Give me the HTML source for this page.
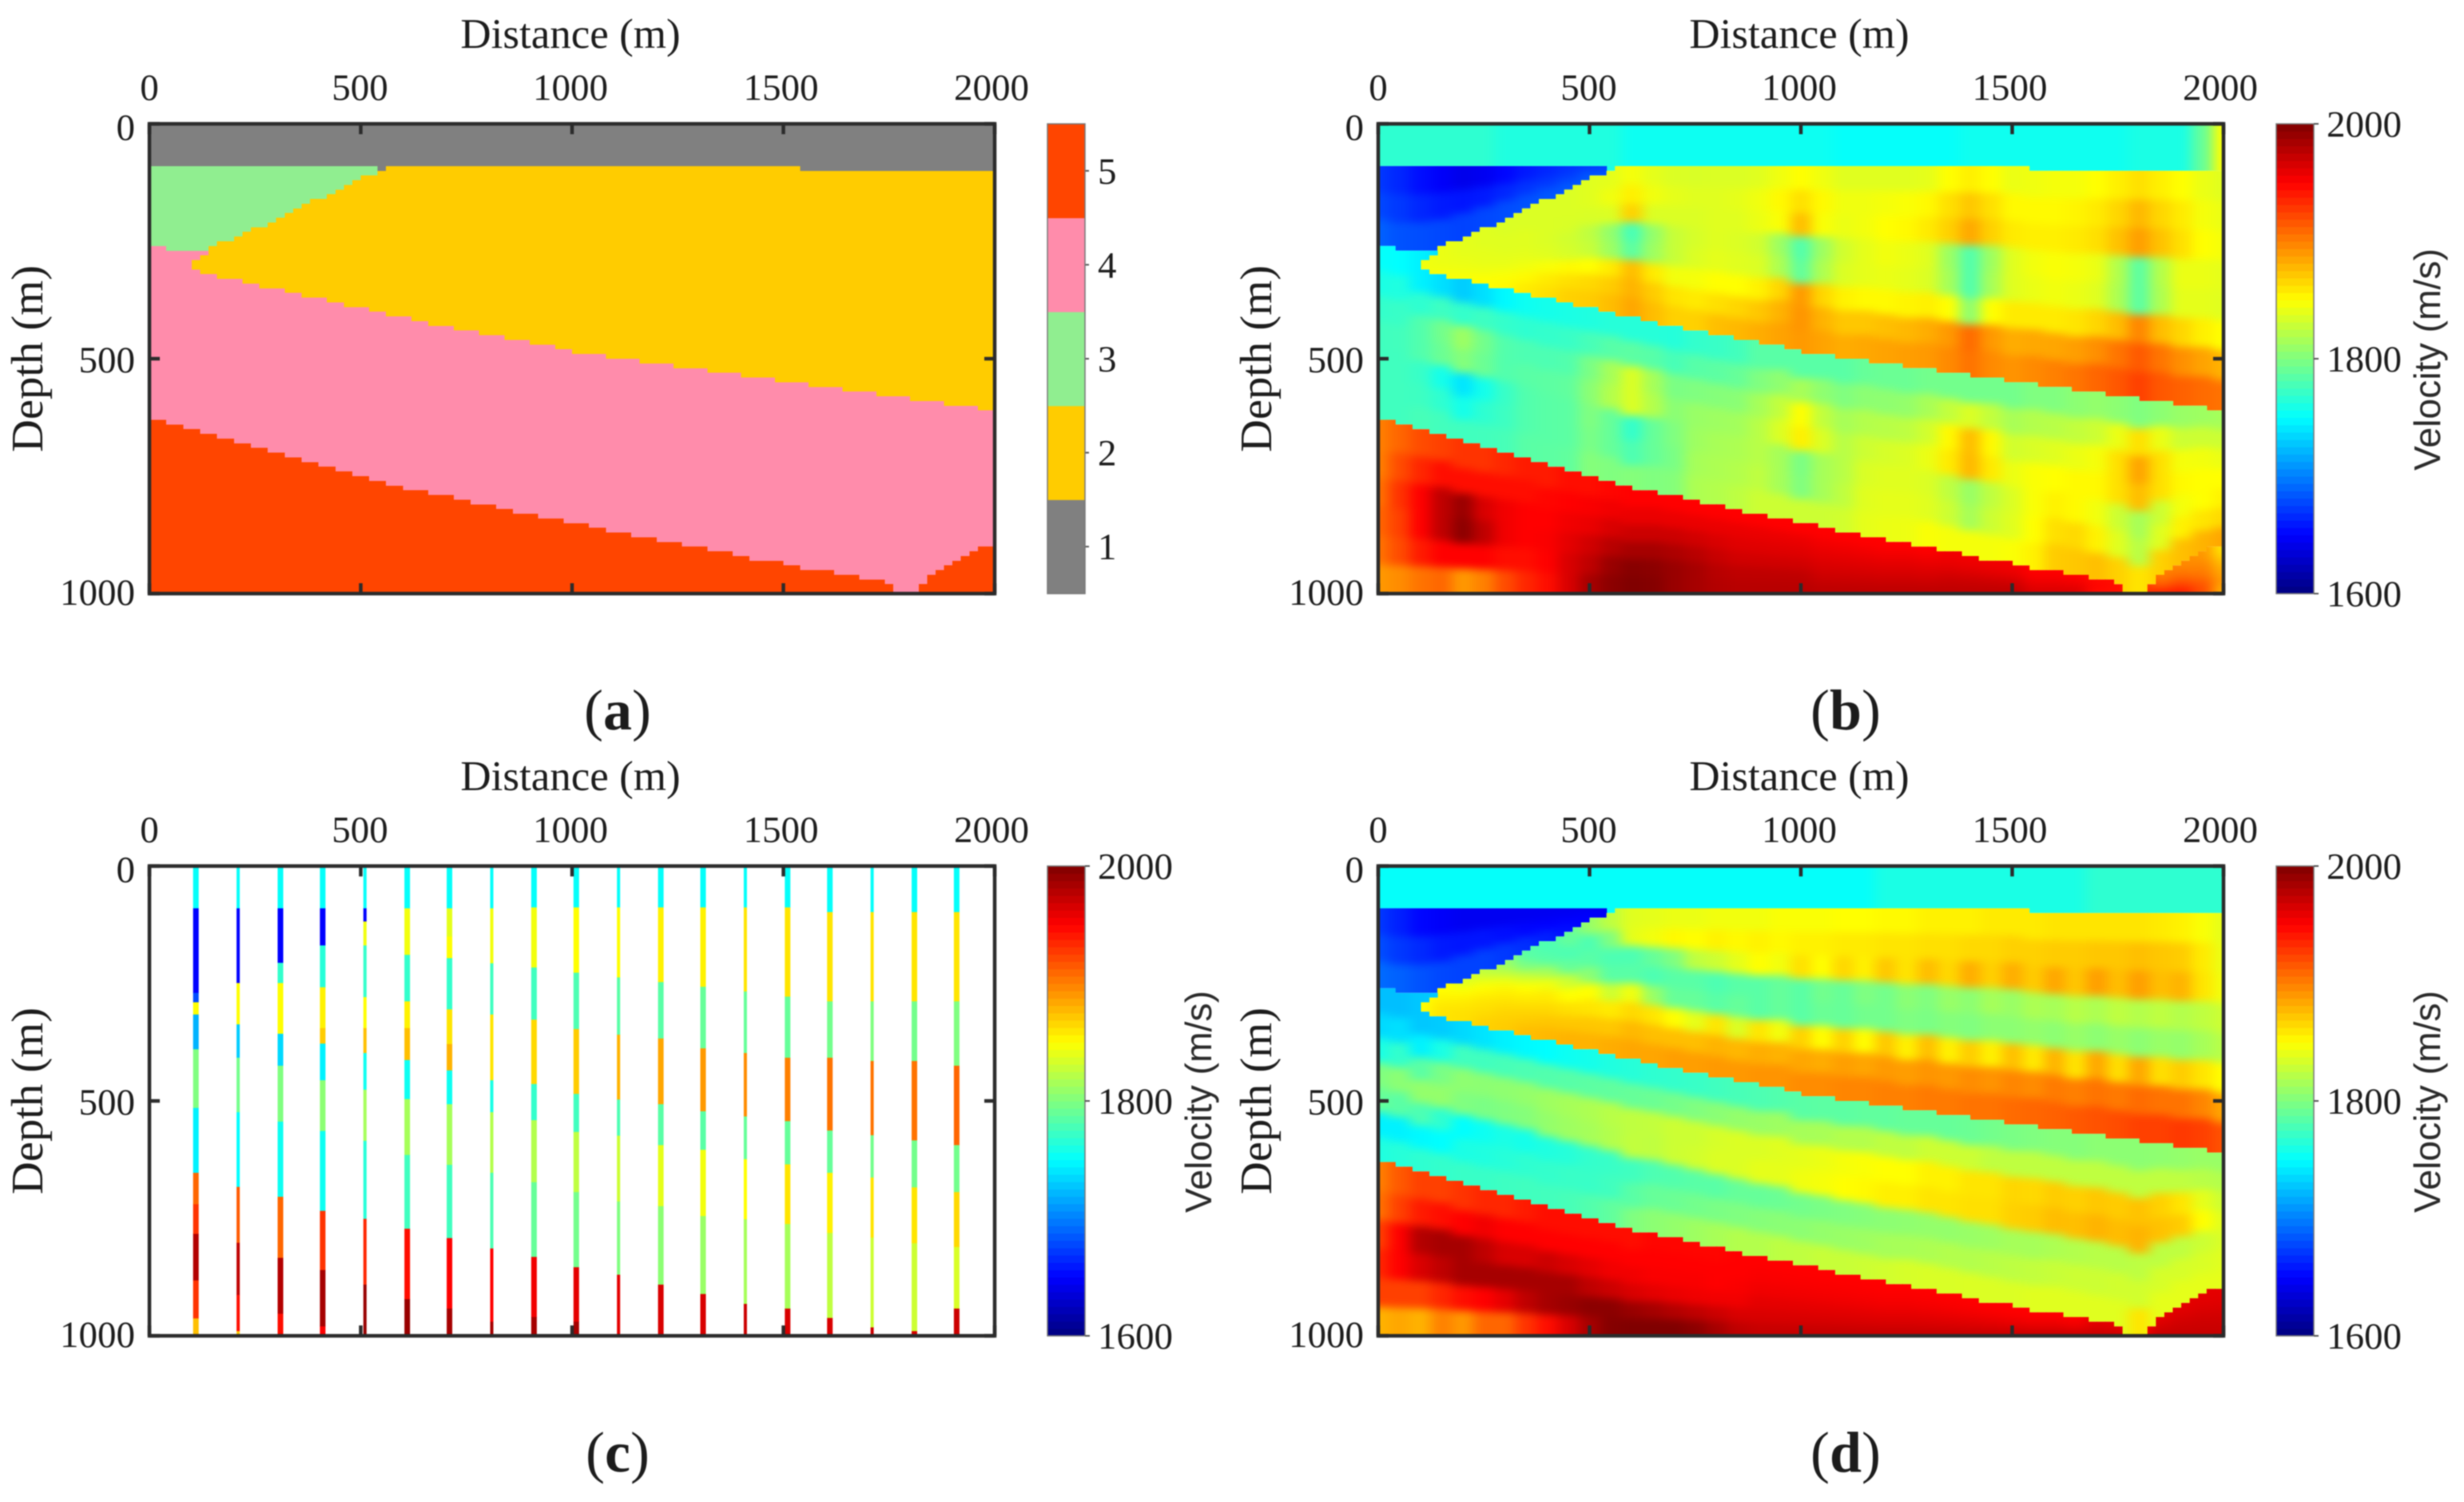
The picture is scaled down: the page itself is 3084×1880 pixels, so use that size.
<!DOCTYPE html>
<html lang="en">
<head>
<meta charset="utf-8">
<title>Velocity model panels</title>
<style>
html,body{margin:0;padding:0;background:#fff;width:3084px;height:1880px;overflow:hidden}
svg{display:block;filter:blur(.7px)}
text{fill:#1c1c1c;font-family:"Liberation Serif",serif}
.dist{font-size:53px;text-anchor:middle}
.depth{font-size:56px;text-anchor:middle}
.vel{font-size:46px;text-anchor:middle;font-family:"Liberation Sans",sans-serif;fill:#2a2a2a}
.cap{font-size:72px;text-anchor:middle}
.cap tspan{font-weight:bold}
.tick{font-size:47px}
</style>
</head>
<body>
<svg id="figure" width="3084" height="1880" viewBox="0 0 3084 1880" xmlns="http://www.w3.org/2000/svg">
<rect width="3084" height="1880" fill="#fff"/>
<defs id="defs">
<filter id="soft" filterUnits="userSpaceOnUse" x="-120" y="-200" width="1300" height="1000" color-interpolation-filters="sRGB"><feGaussianBlur stdDeviation="8 5"/></filter>
</defs>
<g id="panel-a" transform="translate(187 155)">
<g id="a-marks"></g>
<text class="dist" x="527" y="-95">Distance (m)</text>
<text class="depth" transform="translate(-134 294) rotate(-90)" textLength="234" lengthAdjust="spacingAndGlyphs">Depth (m)</text>
<text class="cap" x="586" y="758">(<tspan>a</tspan>)</text>
</g>
<g id="panel-b" transform="translate(1725 155)">
<g id="b-marks"></g>
<text class="dist" x="527" y="-95">Distance (m)</text>
<text class="depth" transform="translate(-134 294) rotate(-90)" textLength="234" lengthAdjust="spacingAndGlyphs">Depth (m)</text>
<text class="vel" transform="translate(1329 295) rotate(-90)" textLength="278" lengthAdjust="spacingAndGlyphs">Velocity (m/s)</text>
<text class="cap" x="585" y="758">(<tspan>b</tspan>)</text>
</g>
<g id="panel-c" transform="translate(187 1084)">
<g id="c-marks"></g>
<text class="dist" x="527" y="-95">Distance (m)</text>
<text class="depth" transform="translate(-134 294) rotate(-90)" textLength="234" lengthAdjust="spacingAndGlyphs">Depth (m)</text>
<text class="vel" transform="translate(1329 295) rotate(-90)" textLength="278" lengthAdjust="spacingAndGlyphs">Velocity (m/s)</text>
<text class="cap" x="586" y="758">(<tspan>c</tspan>)</text>
</g>
<g id="panel-d" transform="translate(1725 1084)">
<g id="d-marks"></g>
<text class="dist" x="527" y="-95">Distance (m)</text>
<text class="depth" transform="translate(-134 294) rotate(-90)" textLength="234" lengthAdjust="spacingAndGlyphs">Depth (m)</text>
<text class="vel" transform="translate(1329 295) rotate(-90)" textLength="278" lengthAdjust="spacingAndGlyphs">Velocity (m/s)</text>
<text class="cap" x="585" y="758">(<tspan>d</tspan>)</text>
</g>
</svg>
<script>
// ---------- axis data ----------
const xTickLabels = [0, 500, 1000, 1500, 2000];
const yTickLabels = [0, 500, 1000];
const faciesTickLabels = [1, 2, 3, 4, 5];
const faciesColors = ['#808080', '#ffcc00', '#90ee90', '#ff8cab', '#ff4500'];
const velocityTickLabels = [1600, 1800, 2000];

// ---------- layer boundaries: depth (m) per 20 m model column ----------
const layer1Base = [
90,90,90,90,90,90,90,90,90,90, 90,90,90,90,90,90,90,90,90,90,
90,90,90,90,90,90,90,100,90,90, 90,90,90,90,90,90,90,90,90,90,
90,90,90,90,90,90,90,90,90,90, 90,90,90,90,90,90,90,90,90,90,
90,90,90,90,90,90,90,90,90,90, 90,90,90,90,90,90,90,100,100,100,
100,100,100,100,100,100,100,100,100,100, 100,100,100,100,100,100,100,100,100,100];
const wedgeBase = [260,260,270,270,270,270,270,260,250,250,240,230,220,220,210,200,190,180,170,160,160,150,140,130,120,110,110,100];
const tipTops = [0,0,0,0,0,290,280];
const layer2Base = [
0,0,0,0,0,310,320,320,330,330,
330,340,340,350,350,350,360,360,370,370,
370,380,380,390,390,390,400,400,410,410,
410,420,420,430,430,430,440,440,440,450,
450,450,460,460,460,470,470,470,480,480,
490,490,490,490,500,500,500,500,510,510,
510,510,520,520,520,520,530,530,530,530,
540,540,540,540,550,550,550,550,560,560,
560,560,570,570,570,570,580,580,580,580,
590,590,590,590,600,600,600,600,610,610];
const layer4Base = [
630,630,640,640,650,650,660,660,670,670,
680,680,690,690,700,700,710,710,720,720,
730,730,740,740,750,750,760,760,770,770,
780,780,780,790,790,790,800,800,810,810,
810,820,820,830,830,830,840,840,840,850,
850,850,860,860,870,870,870,880,880,880,
890,890,890,900,900,900,910,910,910,920,
920,930,930,930,930,940,940,950,950,950,
950,960,960,960,970,970,970,980,1000,1000,
1000,980,960,950,940,930,920,910,900,900];

// ---------- panel b velocities (m/s): one entry per 50 m column, rows top to bottom of each layer ----------
const bLayer1 = [
[1768],[1768],[1768],[1768],[1768],[1768],[1762],[1762],[1762],[1762],[1762],[1762],
[1755],[1755],[1755],[1755],[1755],[1755],[1755],[1755],[1755],[1755],
[1752],[1752],[1752],[1752],[1752],[1752],
[1756],[1756],[1756],[1756],[1756],[1756],[1756],[1756],
[1760],[1760],[1760],[1790],[1850]];
const bLayer3 = [
[1672,1678,1688],[1665,1672,1682],[1655,1665,1680],[1648,1660,1678],[1642,1658,1676],[1645,1660,1678],
[1652,1665,1680],[1660,1670,1682],[1665,1672,1684],[1670,1675,1685],[1672,1678,1685],[1675,1680,1685]];
const bLayer2 = [
[1840,1840,1840,1840,1840,1840,1840,1840],[1840,1840,1840,1840,1840,1840,1840,1840],
[1845,1845,1845,1845,1845,1845,1845,1845],[1842,1842,1842,1842,1842,1843,1845,1846],
[1840,1840,1840,1840,1842,1842,1845,1848],[1838,1838,1838,1840,1840,1842,1845,1850],
[1836,1836,1838,1838,1840,1842,1848,1852],[1836,1836,1838,1838,1840,1845,1852,1858],
[1836,1836,1836,1836,1838,1848,1858,1862],[1836,1836,1835,1832,1834,1852,1862,1868],
[1838,1838,1835,1825,1828,1850,1865,1870],[1840,1844,1836,1808,1812,1858,1870,1876],
[1846,1856,1868,1778,1786,1876,1880,1885],[1840,1844,1836,1808,1812,1858,1870,1876],
[1836,1840,1836,1828,1828,1845,1860,1868],[1835,1838,1836,1834,1836,1846,1858,1868],
[1836,1838,1838,1838,1840,1850,1862,1875],[1836,1840,1838,1836,1838,1850,1866,1878],
[1838,1844,1842,1832,1836,1855,1872,1882],[1844,1852,1848,1812,1818,1866,1880,1886],
[1850,1862,1876,1782,1788,1890,1892,1890],[1844,1852,1848,1812,1818,1866,1880,1886],
[1838,1844,1842,1832,1836,1855,1872,1882],[1838,1844,1845,1840,1840,1852,1872,1884],
[1838,1846,1850,1845,1842,1852,1875,1886],[1838,1848,1852,1842,1840,1854,1878,1888],
[1840,1852,1858,1838,1836,1856,1882,1890],[1850,1862,1868,1812,1815,1850,1890,1896],
[1856,1872,1884,1782,1782,1806,1908,1905],[1850,1862,1868,1812,1815,1850,1890,1896],
[1842,1852,1858,1838,1838,1858,1882,1892],[1844,1852,1856,1845,1842,1858,1884,1896],
[1846,1852,1856,1848,1845,1858,1885,1900],[1846,1854,1858,1846,1842,1860,1888,1904],
[1850,1858,1862,1842,1838,1866,1894,1910],[1856,1866,1874,1820,1818,1876,1904,1916],
[1862,1878,1888,1786,1786,1898,1915,1925],[1856,1866,1874,1820,1818,1876,1904,1916],
[1850,1858,1862,1842,1840,1866,1894,1912],[1842,1846,1850,1842,1840,1856,1886,1908],
[1838,1842,1846,1840,1838,1850,1880,1905]];
const bLayer4 = [
[1752,1760,1770,1775,1775,1775,1775],[1750,1762,1772,1776,1775,1775,1775],
[1745,1768,1782,1782,1772,1774,1778],[1738,1774,1795,1792,1758,1768,1776],
[1730,1770,1812,1802,1740,1758,1775],[1738,1774,1795,1792,1758,1768,1776],
[1748,1770,1782,1782,1772,1774,1778],[1755,1768,1780,1785,1782,1782,1785],
[1758,1770,1780,1786,1785,1785,1786],[1760,1772,1782,1788,1786,1786,1788],
[1762,1778,1798,1804,1800,1798,1802],[1765,1784,1815,1820,1790,1790,1800],
[1765,1786,1836,1836,1770,1780,1802],[1765,1784,1815,1820,1790,1790,1800],
[1764,1778,1798,1804,1800,1798,1802],[1770,1784,1800,1810,1812,1815,1818],
[1772,1786,1802,1812,1816,1818,1820],[1776,1790,1804,1814,1818,1820,1824],
[1785,1800,1815,1822,1822,1825,1830],[1785,1806,1826,1836,1815,1815,1830],
[1785,1816,1850,1856,1798,1800,1830],[1785,1806,1826,1836,1815,1815,1830],
[1785,1800,1815,1822,1822,1825,1832],[1790,1805,1820,1830,1835,1838,1840],
[1792,1806,1822,1834,1838,1840,1842],[1792,1808,1824,1836,1838,1840,1843],
[1795,1816,1832,1842,1836,1838,1848],[1795,1826,1852,1858,1825,1830,1846],
[1795,1836,1876,1878,1810,1815,1846],[1795,1826,1852,1858,1825,1830,1846],
[1795,1816,1832,1842,1836,1838,1848],[1800,1820,1835,1848,1848,1850,1855],
[1800,1822,1838,1850,1855,1862,1870],[1805,1826,1842,1852,1852,1865,1872],
[1808,1830,1846,1852,1845,1855,1875],[1805,1842,1862,1862,1830,1838,1868],
[1800,1862,1886,1876,1815,1822,1860],[1805,1842,1862,1862,1830,1838,1868],
[1810,1830,1846,1852,1846,1855,1875],[1812,1830,1845,1850,1850,1860,1880],
[1815,1830,1842,1850,1855,1865,1885]];
const bLayer5 = [
[1900,1900,1905,1910,1905,1890],[1910,1920,1930,1925,1920,1895],[1920,1935,1950,1950,1940,1905],
[1925,1945,1975,1975,1950,1910],[1930,1945,1990,1995,1950,1890],[1930,1945,1965,1975,1950,1900],
[1935,1945,1955,1955,1945,1920],[1940,1945,1950,1950,1945,1935],[1940,1948,1950,1952,1950,1945],
[1945,1950,1955,1960,1965,1965],[1945,1952,1958,1968,1975,1985],[1948,1955,1965,1978,1990,1995],
[1950,1958,1970,1985,1997,2000],[1950,1958,1970,1985,1995,1998],[1950,1958,1970,1982,1990,1990],
[1950,1958,1968,1978,1985,1985],[1950,1958,1965,1972,1978,1980],[1950,1958,1962,1968,1975,1978],
[1950,1958,1962,1968,1975,1978],[1950,1958,1962,1968,1975,1978],[1950,1958,1962,1968,1975,1978],
[1950,1955,1960,1965,1970,1975],[1950,1955,1960,1965,1970,1975],[1950,1955,1960,1965,1970,1975],
[1950,1955,1960,1965,1970,1975],[1950,1955,1960,1965,1970,1975],[1950,1955,1960,1965,1970,1975],
[1955,1958,1962,1968,1972,1975],[1955,1958,1962,1968,1972,1975],[1955,1958,1962,1968,1972,1975],
[1955,1958,1962,1968,1972,1975],[1950,1952,1955,1958,1962,1965],[1950,1952,1955,1958,1962,1965],
[1950,1952,1955,1958,1962,1965],[1945,1948,1950,1950,1945,1945],[1945,1945,1945,1945,1945,1945],
[1930,1930,1930,1930,1930,1930],[1900,1905,1910,1915,1925,1940],[1895,1900,1905,1915,1925,1940],
[1890,1895,1900,1905,1915,1920],[1860,1870,1880,1885,1890,1880]];

// ---------- panel d velocities (m/s) ----------
const dLayer1 = [
[1752],[1752],[1752],[1752],[1752],[1752],[1752],[1752],[1752],[1752],[1752],[1752],
[1752],[1752],[1752],[1752],[1752],[1752],[1752],[1752],[1752],[1752],[1752],[1752],
[1760],[1760],[1760],[1760],[1760],[1760],[1760],[1760],[1760],[1760],
[1768],[1768],[1768],[1768],[1768],[1768],[1768]];
const dLayer3 = [
[1672,1680,1692],[1662,1672,1688],[1652,1666,1682],[1648,1660,1678],[1645,1658,1676],[1645,1658,1676],
[1645,1655,1672],[1645,1652,1668],[1645,1650,1662],[1645,1650,1655],[1645,1648,1650],[1645,1645,1645]];
const dLayer2 = [
[1850,1850,1850,1850,1850,1850,1850,1850],[1850,1850,1850,1850,1850,1850,1850,1850],
[1850,1850,1850,1850,1850,1850,1850,1850],[1850,1852,1855,1855,1858,1860,1860,1860],
[1835,1845,1850,1855,1858,1860,1862,1862],[1825,1840,1850,1855,1860,1862,1865,1868],
[1810,1825,1845,1855,1860,1865,1868,1870],[1785,1800,1830,1850,1858,1865,1870,1875],
[1780,1785,1815,1845,1858,1865,1872,1878],[1790,1780,1790,1830,1850,1862,1872,1880],
[1810,1780,1785,1805,1850,1860,1872,1880],[1825,1800,1780,1785,1830,1858,1872,1882],
[1838,1840,1780,1785,1845,1865,1878,1885],[1840,1845,1790,1780,1810,1860,1875,1885],
[1842,1852,1800,1785,1790,1850,1875,1888],[1842,1850,1825,1785,1790,1840,1875,1888],
[1845,1855,1830,1780,1785,1860,1880,1890],[1845,1852,1840,1785,1790,1835,1878,1890],
[1845,1855,1850,1785,1785,1860,1882,1892],[1848,1852,1845,1790,1790,1845,1880,1892],
[1848,1855,1862,1785,1785,1868,1885,1895],[1848,1855,1850,1795,1792,1850,1882,1895],
[1850,1858,1866,1790,1790,1868,1888,1898],[1850,1858,1855,1800,1795,1850,1885,1898],
[1852,1860,1872,1795,1795,1872,1890,1900],[1852,1860,1860,1805,1800,1855,1888,1900],
[1855,1862,1876,1800,1798,1875,1892,1902],[1855,1862,1865,1810,1802,1855,1890,1902],
[1855,1865,1882,1805,1800,1870,1895,1905],[1858,1865,1868,1815,1805,1855,1892,1905],
[1858,1868,1882,1810,1805,1875,1898,1908],[1858,1868,1870,1818,1808,1858,1895,1910],
[1860,1870,1885,1815,1805,1880,1902,1912],[1860,1870,1872,1822,1810,1860,1900,1915],
[1860,1872,1888,1818,1805,1885,1905,1918],[1860,1872,1875,1825,1810,1862,1902,1920],
[1860,1875,1888,1820,1805,1885,1908,1925],[1858,1872,1875,1825,1810,1862,1905,1925],
[1855,1870,1880,1820,1808,1870,1905,1928],[1848,1858,1860,1825,1815,1860,1898,1925],
[1840,1842,1845,1830,1822,1850,1885,1918]];
const dLayer4 = [
[1725,1735,1760,1800,1790,1745,1762],[1725,1738,1770,1805,1785,1745,1765],[1728,1745,1785,1808,1780,1748,1768],
[1730,1760,1798,1808,1768,1750,1770],[1735,1775,1806,1800,1750,1760,1772],[1740,1775,1805,1798,1755,1762,1772],
[1745,1778,1806,1800,1760,1765,1774],[1748,1780,1808,1802,1758,1768,1775],[1750,1782,1812,1808,1762,1770,1776],
[1755,1784,1815,1812,1765,1772,1778],[1758,1786,1818,1815,1770,1772,1782],[1762,1788,1822,1820,1772,1775,1788],
[1765,1790,1825,1826,1775,1785,1800],[1768,1792,1826,1825,1780,1790,1805],[1770,1796,1830,1830,1782,1792,1808],
[1772,1800,1830,1832,1785,1795,1812],[1775,1804,1834,1836,1785,1798,1816],[1778,1808,1836,1836,1790,1800,1820],
[1780,1810,1836,1840,1790,1802,1820],[1782,1812,1838,1840,1792,1804,1824],[1785,1815,1840,1844,1795,1805,1825],
[1786,1816,1842,1846,1798,1808,1828],[1786,1820,1846,1850,1800,1810,1828],[1788,1820,1848,1852,1802,1812,1830],
[1788,1825,1850,1856,1805,1815,1832],[1790,1825,1850,1856,1806,1816,1834],[1790,1830,1855,1860,1808,1818,1835],
[1790,1830,1855,1860,1808,1820,1835],[1792,1830,1860,1862,1810,1820,1836],[1795,1825,1860,1862,1812,1822,1836],
[1798,1825,1866,1868,1815,1824,1836],[1800,1825,1865,1870,1815,1826,1838],[1802,1825,1870,1876,1818,1828,1838],
[1802,1825,1868,1875,1820,1830,1838],[1805,1825,1872,1880,1822,1830,1838],[1805,1825,1870,1876,1822,1832,1838],
[1805,1825,1874,1880,1824,1832,1860],[1806,1825,1868,1874,1824,1834,1840],[1808,1825,1860,1870,1825,1834,1840],
[1810,1822,1840,1850,1830,1835,1840],[1810,1820,1830,1838,1835,1838,1840]];
const dLayer5 = [
[1900,1905,1925,1935,1925,1880],[1915,1925,1950,1950,1925,1885],[1925,1940,1980,1965,1925,1880],
[1925,1945,1985,1975,1935,1900],[1930,1950,1985,1985,1945,1890],[1935,1955,1975,1985,1950,1910],
[1935,1950,1965,1985,1960,1910],[1940,1950,1965,1985,1975,1930],[1945,1950,1970,1985,1985,1945],
[1945,1950,1965,1985,1990,1965],[1945,1950,1960,1975,1995,1985],[1945,1950,1955,1970,1995,1998],
[1945,1950,1955,1965,1990,2000],[1948,1950,1952,1960,1985,2000],[1948,1950,1952,1958,1980,2000],
[1948,1950,1952,1956,1975,1995],[1948,1950,1950,1955,1970,1985],[1950,1950,1952,1955,1965,1975],
[1950,1952,1955,1960,1965,1972],[1950,1952,1955,1960,1965,1972],[1950,1952,1955,1960,1965,1972],
[1950,1952,1955,1960,1965,1972],[1950,1952,1955,1960,1965,1972],[1950,1952,1955,1960,1965,1972],
[1950,1952,1955,1960,1965,1972],[1950,1952,1955,1960,1965,1972],[1950,1952,1955,1960,1965,1972],
[1950,1952,1955,1960,1965,1972],[1950,1952,1955,1960,1965,1972],[1950,1952,1955,1960,1965,1972],
[1950,1952,1955,1960,1965,1972],[1950,1952,1955,1960,1965,1972],[1950,1952,1955,1960,1965,1972],
[1950,1952,1955,1960,1965,1972],[1960,1962,1965,1968,1970,1972],[1960,1962,1965,1968,1970,1972],
[1950,1950,1950,1950,1950,1950],[1960,1962,1965,1968,1970,1972],[1960,1962,1965,1968,1970,1972],
[1960,1962,1965,1968,1970,1972],[1960,1962,1965,1968,1970,1972]];

// ---------- panel c: velocity logs, each entry [segment top depth (m), velocity (m/s)] ----------
const wellDistances = [110,210,310,410,510,610,710,810,910,1010,1110,1210,1310,1410,1510,1610,1710,1810,1910];
const wellLogs = [
[[0,1752],[90,1650],[270,1680],[290,1850],[316,1720],[390,1800],[515,1745],[653,1910],[720,1930],[783,1980],[882,1930],[963,1875]],
[[0,1752],[90,1650],[249,1850],[337,1730],[408,1795],[524,1750],[683,1915],[802,1975],[913,1945],[990,1870]],
[[0,1752],[90,1650],[206,1770],[249,1850],[357,1735],[425,1800],[544,1755],[704,1910],[834,1980],[953,1945]],
[[0,1752],[90,1650],[169,1765],[258,1855],[345,1870],[378,1745],[456,1805],[564,1755],[734,1930],[860,1985],[980,1950]],
[[0,1752],[90,1650],[118,1845],[169,1770],[279,1850],[345,1875],[398,1755],[476,1815],[585,1765],[751,1935],[891,1990]],
[[0,1752],[90,1845],[189,1770],[288,1855],[345,1875],[413,1755],[496,1815],[615,1775],[772,1945],[922,1990]],
[[0,1752],[90,1840],[150,1850],[196,1770],[305,1860],[379,1880],[435,1755],[507,1815],[636,1775],[792,1950],[942,1985]],
[[0,1752],[90,1845],[207,1775],[316,1860],[456,1760],[524,1820],[653,1780],[814,1950],[970,1985]],
[[0,1752],[88,1845],[216,1775],[327,1865],[464,1770],[541,1820],[673,1790],[832,1955],[960,1985]],
[[0,1752],[88,1850],[227,1780],[347,1870],[485,1775],[566,1825],[694,1795],[854,1960],[970,1985]],
[[0,1752],[88,1850],[237,1785],[359,1880],[497,1780],[574,1830],[714,1800],[870,1960]],
[[0,1752],[88,1855],[247,1785],[367,1885],[507,1785],[594,1840],[724,1805],[891,1965]],
[[0,1752],[88,1855],[257,1790],[388,1890],[522,1785],[604,1845],[745,1810],[911,1965]],
[[0,1752],[88,1860],[267,1790],[398,1895],[533,1790],[624,1850],[752,1815],[932,1970]],
[[0,1752],[88,1860],[278,1790],[408,1900],[543,1790],[635,1860],[762,1815],[942,1965]],
[[0,1752],[98,1860],[288,1795],[408,1905],[563,1790],[653,1855],[781,1825],[962,1965]],
[[0,1752],[98,1860],[288,1800],[415,1905],[573,1795],[663,1860],[791,1830],[982,1970]],
[[0,1752],[98,1860],[288,1795],[415,1905],[584,1795],[684,1860],[803,1830],[990,1965]],
[[0,1752],[98,1860],[288,1800],[425,1910],[594,1795],[694,1865],[811,1835],[942,1970]]];

// ---------- axis functions ----------
const AX_W = 1058, AX_H = 588;
const xs = m => m * AX_W / 2000;
const ys = z => z * AX_H / 1000;
const vs = v => AX_H - (v - 1600) * AX_H / 400;
const NS = document.documentElement.namespaceURI && 'http://www.w3.org/2000/svg';

function make(tag, parent, attrs) {
  const el = document.createElementNS(NS, tag);
  for (const k in attrs) el.setAttribute(k, attrs[k]);
  parent.appendChild(el);
  return el;
}
function jet(v) {
  const t = Math.max(0, Math.min(1, (v - 1600) / 400));
  const ch = f => Math.round(255 * Math.max(0, Math.min(1, f)));
  const r = ch(Math.min(4 * t - 1.5, -4 * t + 4.5));
  const g = ch(Math.min(4 * t - 0.5, -4 * t + 3.5));
  const b = ch(Math.min(4 * t + 0.5, -4 * t + 2.5));
  return 'rgb(' + r + ',' + g + ',' + b + ')';
}

// ---------- layer geometry ----------
const wedge = i => i < wedgeBase.length ? wedgeBase[i] : layer1Base[i];
const l2Top = i => i < tipTops.length ? tipTops[i] : wedge(i);
function layerAt(i, z) {
  if (z < layer1Base[i]) return 1;
  if (z < wedge(i)) return 3;
  if (i >= 5) {
    if (z < l2Top(i)) return 4;
    if (z < layer2Base[i]) return 2;
  }
  return z < layer4Base[i] ? 4 : 5;
}
function bounds(layer, i) {
  if (layer === 1) return [0, layer1Base[i]];
  if (layer === 3) return [layer1Base[i], wedge(i)];
  if (layer === 2) return i < 5 ? [300, 300] : [l2Top(i), layer2Base[i]];
  if (layer === 4) return [i < 5 ? wedge(i) : layer2Base[i], layer4Base[i]];
  return [layer4Base[i], 1000];
}
function columnRuns(i) {
  const runs = [];
  for (let r = 0; r < 100; r++) {
    const layer = layerAt(i, 5 + 10 * r);
    const last = runs[runs.length - 1];
    if (last && last.layer === layer) last.to = 10 * r + 10;
    else runs.push({ layer: layer, from: 10 * r, to: 10 * r + 10 });
  }
  return runs;
}

// shared clip paths, one per layer
const defs = document.getElementById('defs');
[1, 2, 3, 4, 5].forEach(layer => {
  const cp = make('clipPath', defs, { id: 'layer-clip-' + layer });
  for (let i = 0; i < 100; i++) {
    columnRuns(i).filter(run => run.layer === layer).forEach(run => {
      make('rect', cp, { x: xs(20 * i), y: ys(run.from), width: xs(20) + 0.6, height: ys(run.to - run.from) });
    });
  }
});

// ---------- frame and ticks ----------
function drawFrame(parent) {
  const stroke = '#2b2b2b';
  const frame = make('rect', parent, { x: 0, y: 0, width: AX_W, height: AX_H, fill: 'none', stroke: stroke, 'stroke-width': 4.5 });
  
  
  xTickLabels.forEach(v => {
    [[0, 13], [AX_H, AX_H - 13]].forEach(p => {
      const t = make('line', parent, { x1: xs(v), x2: xs(v), y1: p[0], y2: p[1], stroke: stroke, 'stroke-width': 4.5 });
      
      
    });
    const lab = make('text', parent, { x: xs(v) - v * 0.002, y: -30, 'text-anchor': 'middle', class: 'tick' });
    
    
    lab.textContent = v;
  });
  yTickLabels.forEach(v => {
    [[0, 13], [AX_W, AX_W - 13]].forEach(p => {
      const t = make('line', parent, { x1: p[0], x2: p[1], y1: ys(v), y2: ys(v), stroke: stroke, 'stroke-width': 4.5 });
      
      
    });
    const lab = make('text', parent, { x: -18, y: ys(v) + 20 - v * 0.006, 'text-anchor': 'end', class: 'tick' });
    
    
    lab.textContent = v;
  });
}

// ---------- colorbars ----------
const CB_X = 1124, CB_W = 47;
function drawJetColorbar(parent) {
  const g = make('g', parent, {});
  
  
  const levels = 64;
  for (let k = 0; k < levels; k++) {
    const lo = 1600 + 400 * k / levels, hi = 1600 + 400 * (k + 1) / levels;
    const c = make('rect', g, { x: CB_X, y: vs(hi), width: CB_W, height: vs(lo) - vs(hi) + 0.6, fill: jet((lo + hi) / 2) });
    
    
  }
  make('rect', g, { x: CB_X, y: 0, width: CB_W, height: AX_H, fill: 'none', stroke: '#777', 'stroke-width': 1.5 });
  velocityTickLabels.forEach(v => {
    const t = make('line', g, { x1: CB_X + CB_W, x2: CB_X + CB_W + 6, y1: vs(v), y2: vs(v), stroke: '#555', 'stroke-width': 2 });
    
    
    const lab = make('text', g, { x: CB_X + CB_W + 16, y: vs(v) + 16, class: 'tick' });
    
    
    lab.textContent = v;
  });
}
function drawFaciesColorbar(parent) {
  const g = make('g', parent, {});
  
  
  const h = AX_H / faciesTickLabels.length;
  faciesTickLabels.forEach((v, k) => {
    const yTop = AX_H - h * (k + 1);
    const c = make('rect', g, { x: CB_X, y: yTop, width: CB_W, height: h + 0.5, fill: faciesColors[k] });
    
    
    const t = make('line', g, { x1: CB_X + CB_W, x2: CB_X + CB_W + 5, y1: yTop + h / 2, y2: yTop + h / 2, stroke: '#555', 'stroke-width': 2 });
    
    
    const lab = make('text', g, { x: CB_X + CB_W + 16, y: yTop + h / 2 + 16, class: 'tick' });
    
    
    lab.textContent = v;
  });
  make('rect', g, { x: CB_X, y: 0, width: CB_W, height: AX_H, fill: 'none', stroke: '#777', 'stroke-width': 1.5 });
}

// ---------- panel a: facies cells ----------
function drawFacies(parent) {
  const g = make('g', parent, { 'shape-rendering': 'crispEdges' });
  
  
  const order = { 1: 0, 2: 1, 3: 2, 4: 3, 5: 4 };
  for (let i = 0; i < 100; i++) {
    columnRuns(i).forEach(run => {
      const c = make('rect', g, { x: xs(20 * i), y: ys(run.from), width: xs(20) + 0.6, height: ys(run.to - run.from) + 0.3, fill: faciesColors[order[run.layer]] });
      
      
    });
  }
}

// ---------- panels b, d: velocity cells ----------
function drawVelocityLayer(parent, layer, matrix) {
  const clip = make('g', parent, { 'clip-path': 'url(#layer-clip-' + layer + ')' });
  
  
  const soft = make('g', clip, { filter: 'url(#soft)' });
  matrix.forEach((col, j) => {
    const xm = 50 * j;
    const i = Math.min(99, Math.floor(xm / 20));
    const b = bounds(layer, i);
    const n = col.length;
    col.forEach((v, r) => {
      let z0 = b[0] + (b[1] - b[0]) * r / n;
      let z1 = b[0] + (b[1] - b[0]) * (r + 1) / n;
      if (r === 0) z0 -= 200;
      if (r === n - 1) z1 += 200;
      let x0 = xs(xm - 25), w = xs(50) + 1;
      if (j === 0) { x0 -= 70; w += 70; }
      if (j === matrix.length - 1) w += 70;
      const c = make('rect', soft, { x: x0, y: ys(z0), width: w, height: Math.max(0, ys(z1) - ys(z0)) + 0.5, fill: jet(v) });
      
      
    });
  });
}

// ---------- panel c: well logs ----------
function drawWells(parent) {
  wellLogs.forEach((log, k) => {
    const g = make('g', parent, { 'shape-rendering': 'geometricPrecision' });
    
    
    const w = k % 3 === 1 ? 4 : 7;
    log.forEach((seg, s) => {
      const next = s + 1 < log.length ? log[s + 1][0] : 1000;
      const c = make('rect', g, { x: xs(wellDistances[k]) - w / 2, y: ys(seg[0]), width: w, height: ys(next - seg[0]) + 0.4, fill: jet(seg[1]) });
      
      
    });
  });
}

// ---------- assemble ----------
const aMarks = document.getElementById('a-marks');
drawFacies(aMarks);
drawFrame(aMarks);
drawFaciesColorbar(aMarks);

const bMarks = document.getElementById('b-marks');
[[1, bLayer1], [3, bLayer3], [2, bLayer2], [4, bLayer4], [5, bLayer5]].forEach(p => drawVelocityLayer(bMarks, p[0], p[1]));
drawFrame(bMarks);
drawJetColorbar(bMarks);

const cMarks = document.getElementById('c-marks');
drawWells(cMarks);
drawFrame(cMarks);
drawJetColorbar(cMarks);

const dMarks = document.getElementById('d-marks');
[[1, dLayer1], [3, dLayer3], [2, dLayer2], [4, dLayer4], [5, dLayer5]].forEach(p => drawVelocityLayer(dMarks, p[0], p[1]));
drawFrame(dMarks);
drawJetColorbar(dMarks);
</script>
</body>
</html>
